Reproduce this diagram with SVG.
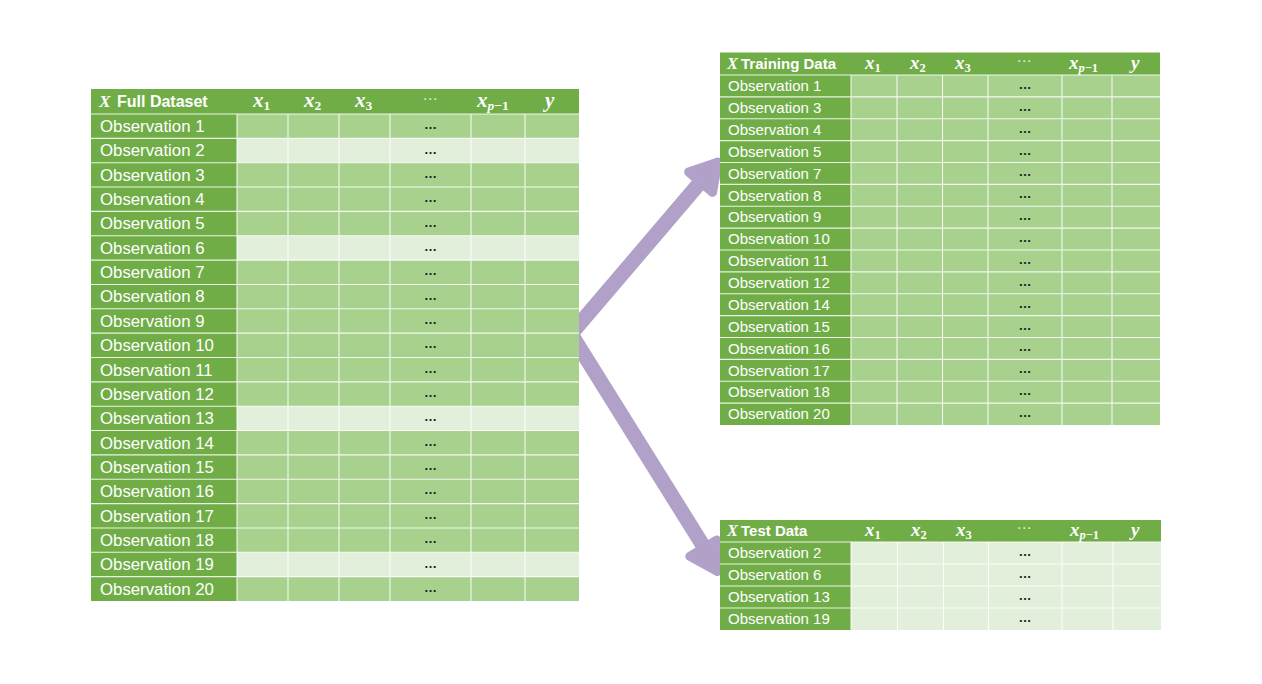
<svg xmlns="http://www.w3.org/2000/svg" width="1262" height="684" viewBox="0 0 1262 684">
<style>
.hd{fill:#70AD47}
.dk{fill:#A9D18E}
.lt{fill:#E2EFDA}
.grid{stroke:#fff;stroke-width:1.1;stroke-opacity:0.85;fill:none}
.lb{font-family:"Liberation Sans",Arial,sans-serif;fill:#fff}
.f{font-size:16.8px}
.t{font-size:15px}
.hb{font-family:"Liberation Sans",Arial,sans-serif;font-weight:bold;fill:#fff}
.m{font-family:"Liberation Serif","Times New Roman",serif;font-style:italic;font-weight:bold;fill:#fff}
.sb{font-style:normal}
.dots{font-family:"Liberation Sans",Arial,sans-serif;font-size:13px;fill:#222;text-anchor:middle;font-weight:bold}
.hdots{font-family:"DejaVu Sans",sans-serif;font-size:15px;fill:#e3ecdc;text-anchor:middle}
.arrow{stroke:#B1A0C7;fill:none;stroke-width:15;stroke-linejoin:miter}
.head{fill:#B1A0C7;stroke:#B1A0C7;stroke-width:9;stroke-linejoin:round}
</style>
<rect width="1262" height="684" fill="#fff"/>
<g id="connectors">
  <path class="arrow" d="M701.5,180.9 L571,334 L704,547.1"/>
  <polygon class="head" points="718,162 712.5,192.4 688.6,172"/>
  <polygon class="head" points="717.5,571.5 689.8,556.4 716.6,540"/>
</g>
<g id="full-dataset">
  <rect class="hd" x="91" y="89" width="488" height="25"/>
  <rect class="hd" x="91" y="114" width="146" height="487"/>
  <rect class="dk" x="237" y="114" width="342" height="487"/>
  <rect class="lt" x="237" y="138.35" width="342" height="24.35"/>
  <rect class="lt" x="237" y="235.75" width="342" height="24.35"/>
  <rect class="lt" x="237" y="406.2" width="342" height="24.35"/>
  <rect class="lt" x="237" y="552.3" width="342" height="24.35"/>
  <path class="grid" d="M91 114H579M91 138.35H579M91 162.7H579M91 187.05H579M91 211.4H579M91 235.75H579M91 260.1H579M91 284.45H579M91 308.8H579M91 333.15H579M91 357.5H579M91 381.85H579M91 406.2H579M91 430.55H579M91 454.9H579M91 479.25H579M91 503.6H579M91 527.95H579M91 552.3H579M91 576.65H579M237 114V601M288 114V601M339 114V601M390 114V601M471 114V601M525 114V601"/>
  <text class="m" x="99" y="107" font-size="17.5">X</text>
  <text class="hb" x="117" y="107" font-size="16">Full Dataset</text>
  <text class="m" x="253" y="107" font-size="21">x<tspan class="sb" font-size="13.5" dy="3">1</tspan></text>
  <text class="m" x="304" y="107" font-size="21">x<tspan class="sb" font-size="13.5" dy="3">2</tspan></text>
  <text class="m" x="355" y="107" font-size="21">x<tspan class="sb" font-size="13.5" dy="3">3</tspan></text>
  <text class="hdots" x="430" y="104">⋯</text>
  <text class="m" x="477" y="107" font-size="21">x<tspan font-size="13.5" dy="3">p</tspan><tspan class="sb" font-size="13.5">−1</tspan></text>
  <text class="m" x="545" y="107" font-size="21">y</text>
  <g class="lb f">
    <text x="100" y="132">Observation 1</text>
    <text x="100" y="156.3">Observation 2</text>
    <text x="100" y="180.7">Observation 3</text>
    <text x="100" y="205">Observation 4</text>
    <text x="100" y="229.4">Observation 5</text>
    <text x="100" y="253.7">Observation 6</text>
    <text x="100" y="278.1">Observation 7</text>
    <text x="100" y="302.4">Observation 8</text>
    <text x="100" y="326.8">Observation 9</text>
    <text x="100" y="351.1">Observation 10</text>
    <text x="100" y="375.5">Observation 11</text>
    <text x="100" y="399.8">Observation 12</text>
    <text x="100" y="424.2">Observation 13</text>
    <text x="100" y="448.5">Observation 14</text>
    <text x="100" y="472.9">Observation 15</text>
    <text x="100" y="497.2">Observation 16</text>
    <text x="100" y="521.6">Observation 17</text>
    <text x="100" y="545.9">Observation 18</text>
    <text x="100" y="570.3">Observation 19</text>
    <text x="100" y="594.6">Observation 20</text>
  </g>
  <g class="dots">
    <text x="430.5" y="129.2">…</text>
    <text x="430.5" y="153.5">…</text>
    <text x="430.5" y="177.9">…</text>
    <text x="430.5" y="202.2">…</text>
    <text x="430.5" y="226.6">…</text>
    <text x="430.5" y="250.9">…</text>
    <text x="430.5" y="275.3">…</text>
    <text x="430.5" y="299.6">…</text>
    <text x="430.5" y="324">…</text>
    <text x="430.5" y="348.3">…</text>
    <text x="430.5" y="372.7">…</text>
    <text x="430.5" y="397">…</text>
    <text x="430.5" y="421.4">…</text>
    <text x="430.5" y="445.7">…</text>
    <text x="430.5" y="470.1">…</text>
    <text x="430.5" y="494.4">…</text>
    <text x="430.5" y="518.8">…</text>
    <text x="430.5" y="543.1">…</text>
    <text x="430.5" y="567.5">…</text>
    <text x="430.5" y="591.8">…</text>
  </g>
</g>
<g id="training-data">
  <rect class="hd" x="720" y="52.5" width="440" height="22.5"/>
  <rect class="hd" x="720" y="75" width="131" height="350"/>
  <rect class="dk" x="851" y="75" width="309" height="350"/>
  <path class="grid" d="M720 75H1160M720 96.875H1160M720 118.75H1160M720 140.625H1160M720 162.5H1160M720 184.375H1160M720 206.25H1160M720 228.125H1160M720 250H1160M720 271.875H1160M720 293.75H1160M720 315.625H1160M720 337.5H1160M720 359.375H1160M720 381.25H1160M720 403.125H1160M851 75V425M897 75V425M942.5 75V425M988 75V425M1062 75V425M1112 75V425"/>
  <text class="m" x="727" y="69" font-size="16.5">X</text>
  <text class="hb" x="741" y="69" font-size="15">Training Data</text>
  <text class="m" x="865" y="69" font-size="19">x<tspan class="sb" font-size="12.5" dy="3">1</tspan></text>
  <text class="m" x="910" y="69" font-size="19">x<tspan class="sb" font-size="12.5" dy="3">2</tspan></text>
  <text class="m" x="955" y="69" font-size="19">x<tspan class="sb" font-size="12.5" dy="3">3</tspan></text>
  <text class="hdots" x="1024" y="66">⋯</text>
  <text class="m" x="1069" y="69" font-size="19">x<tspan font-size="12.5" dy="3">p</tspan><tspan class="sb" font-size="12.5">−1</tspan></text>
  <text class="m" x="1131" y="69" font-size="19">y</text>
  <g class="lb t">
    <text x="728" y="91.1">Observation 1</text>
    <text x="728" y="113">Observation 3</text>
    <text x="728" y="134.9">Observation 4</text>
    <text x="728" y="156.8">Observation 5</text>
    <text x="728" y="178.6">Observation 7</text>
    <text x="728" y="200.5">Observation 8</text>
    <text x="728" y="222.4">Observation 9</text>
    <text x="728" y="244.3">Observation 10</text>
    <text x="728" y="266.1">Observation 11</text>
    <text x="728" y="288">Observation 12</text>
    <text x="728" y="309.9">Observation 14</text>
    <text x="728" y="331.8">Observation 15</text>
    <text x="728" y="353.6">Observation 16</text>
    <text x="728" y="375.5">Observation 17</text>
    <text x="728" y="397.4">Observation 18</text>
    <text x="728" y="419.3">Observation 20</text>
  </g>
  <g class="dots">
    <text x="1025" y="88.9">…</text>
    <text x="1025" y="110.8">…</text>
    <text x="1025" y="132.7">…</text>
    <text x="1025" y="154.6">…</text>
    <text x="1025" y="176.4">…</text>
    <text x="1025" y="198.3">…</text>
    <text x="1025" y="220.2">…</text>
    <text x="1025" y="242.1">…</text>
    <text x="1025" y="263.9">…</text>
    <text x="1025" y="285.8">…</text>
    <text x="1025" y="307.7">…</text>
    <text x="1025" y="329.6">…</text>
    <text x="1025" y="351.4">…</text>
    <text x="1025" y="373.3">…</text>
    <text x="1025" y="395.2">…</text>
    <text x="1025" y="417.1">…</text>
  </g>
</g>
<g id="test-data">
  <rect class="hd" x="720" y="520" width="441" height="22"/>
  <rect class="hd" x="720" y="542" width="131" height="88"/>
  <rect class="lt" x="851" y="542" width="310" height="88"/>
  <path class="grid" d="M720 542H1161M720 564H1161M720 586H1161M720 608H1161M851 542V630M897.5 542V630M943.5 542V630M988.5 542V630M1062 542V630M1113 542V630"/>
  <text class="m" x="727" y="536" font-size="16.5">X</text>
  <text class="hb" x="741" y="536" font-size="15">Test Data</text>
  <text class="m" x="865" y="536" font-size="19">x<tspan class="sb" font-size="12.5" dy="3">1</tspan></text>
  <text class="m" x="911" y="536" font-size="19">x<tspan class="sb" font-size="12.5" dy="3">2</tspan></text>
  <text class="m" x="956" y="536" font-size="19">x<tspan class="sb" font-size="12.5" dy="3">3</tspan></text>
  <text class="hdots" x="1024" y="533">⋯</text>
  <text class="m" x="1070" y="536" font-size="19">x<tspan font-size="12.5" dy="3">p</tspan><tspan class="sb" font-size="12.5">−1</tspan></text>
  <text class="m" x="1131" y="536" font-size="19">y</text>
  <g class="lb t">
    <text x="728" y="558.2">Observation 2</text>
    <text x="728" y="580.2">Observation 6</text>
    <text x="728" y="602.2">Observation 13</text>
    <text x="728" y="624.2">Observation 19</text>
  </g>
  <g class="dots">
    <text x="1025" y="556">…</text>
    <text x="1025" y="578">…</text>
    <text x="1025" y="600">…</text>
    <text x="1025" y="622">…</text>
  </g>
</g>
</svg>
